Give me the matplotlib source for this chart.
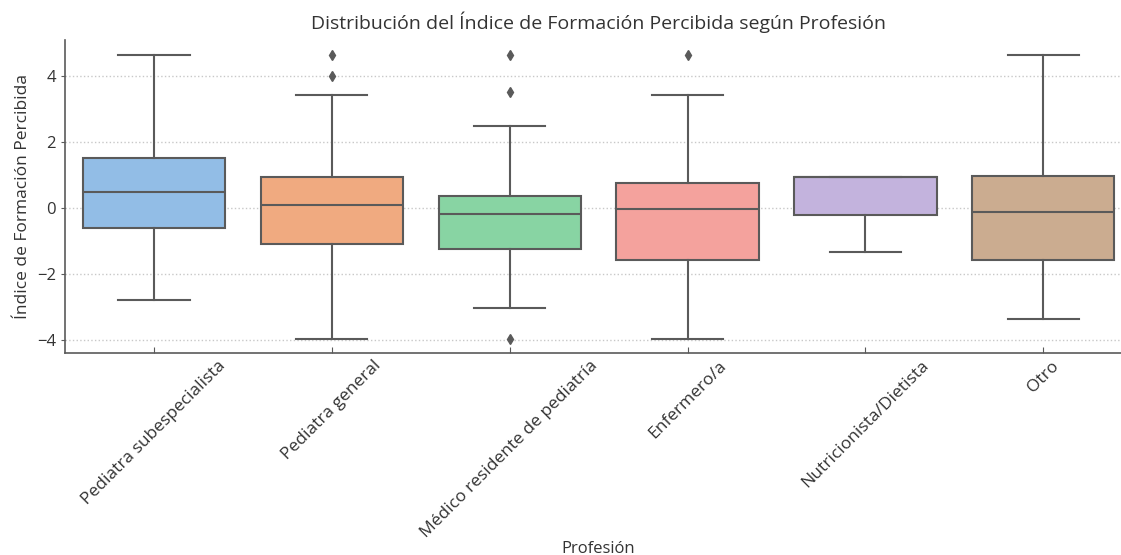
import matplotlib
matplotlib.use("Agg")
import matplotlib.pyplot as plt

plt.rcParams["font.family"] = ["Open Sans", "DejaVu Sans"]
plt.rcParams["text.color"] = "#333333"
plt.rcParams["axes.labelcolor"] = "#333333"
plt.rcParams["xtick.color"] = "#333333"
plt.rcParams["ytick.color"] = "#333333"

# Resumen de cada caja (valores del índice estandarizado)
profesiones = [
    "Pediatra subespecialista",
    "Pediatra general",
    "Médico residente de pediatría",
    "Enfermero/a",
    "Nutricionista/Dietista",
    "Otro",
]
whislo = [-2.79, -3.98, -3.02, -3.98, -1.34, -3.37]
q1 = [-0.61, -1.09, -1.24, -1.57, -0.20, -1.57]
med = [0.50, 0.10, -0.17, -0.03, 0.93, -0.13]
q3 = [1.52, 0.93, 0.35, 0.76, 0.93, 0.98]
whishi = [4.64, 3.44, 2.48, 3.44, 0.93, 4.64]
fliers = [[], [4.63, 4.00], [4.63, 3.53, -3.98], [4.63], [], []]

stats = []
for i in range(len(profesiones)):
    stats.append(dict(label=profesiones[i], whislo=whislo[i], q1=q1[i], med=med[i],
                      q3=q3[i], whishi=whishi[i], fliers=fliers[i]))

colores = ["#92bde6", "#f0aa80", "#88d4a3", "#f4a29d", "#c3b3dd", "#cbac90"]
gris = "#5a5a5a"

fig = plt.figure(figsize=(11.21, 5.55), dpi=100)
ax = fig.add_axes([0.058, 0.364, 0.952, 0.564])

bp = ax.bxp(stats, positions=range(len(stats)), widths=0.8, patch_artist=True,
            capwidths=0.4,
            boxprops=dict(edgecolor=gris, linewidth=1.5),
            medianprops=dict(color=gris, linewidth=1.5),
            whiskerprops=dict(color=gris, linewidth=1.5),
            capprops=dict(color=gris, linewidth=1.5),
            flierprops=dict(marker="d", markerfacecolor=gris, markeredgecolor=gris,
                            markersize=5))
for caja, c in zip(bp["boxes"], colores):
    caja.set_facecolor(c)

ax.set_xlim(-0.5, 5.5)
ax.set_ylim(-4.4, 5.1)
ax.set_yticks([-4, -2, 0, 2, 4])
ax.set_xticks(range(len(profesiones)))
ax.set_xticklabels(profesiones, rotation=45, fontsize=12.5)
ax.tick_params(axis="y", labelsize=12, direction="out", color=gris, length=3)
ax.tick_params(axis="x", direction="in", color=gris, length=4)
ax.yaxis.grid(True, linestyle=":", color="#c8c8c8", linewidth=1)
ax.set_axisbelow(True)

for lado in ["top", "right"]:
    ax.spines[lado].set_visible(False)
for lado in ["left", "bottom"]:
    ax.spines[lado].set_color(gris)
    ax.spines[lado].set_linewidth(1.2)

ax.set_title("Distribución del Índice de Formación Percibida según Profesión",
             fontsize=14, pad=8)
ax.set_ylabel("Índice de Formación Percibida", fontsize=12.5)
ax.set_xlabel("Profesión", fontsize=12)
ax.xaxis.set_label_coords(0.5, -0.6)

fig.savefig("out.png", dpi=100)
